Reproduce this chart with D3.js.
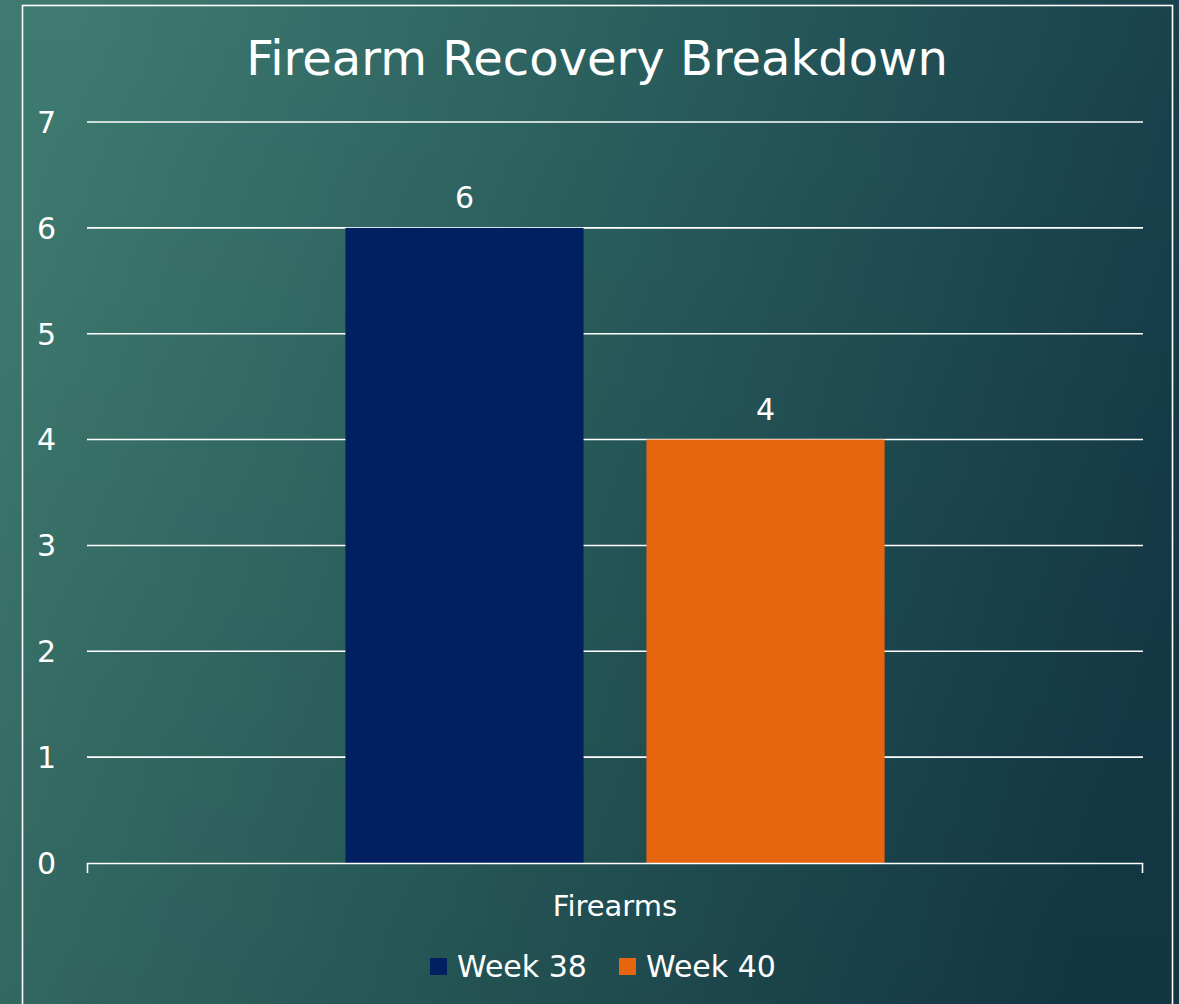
<!DOCTYPE html>
<html>
<head>
<meta charset="utf-8">
<script src="https://cdn.jsdelivr.net/npm/d3@7"></script>
<style>
  body { margin: 0; background: #1d4b52; }
  svg { display: block; font-family: "DejaVu Sans", sans-serif; }
</style>
</head>
<body>
<div id="chart"></div>
<script>
var width = 1179;
var height = 1004;

// chart data
var categories = ["Firearms"];
var seriesNames = ["Week 38", "Week 40"];
var week38 = [6];
var week40 = [4];
var yTicks = [0, 1, 2, 3, 4, 5, 6, 7];
var seriesColors = ["#002060", "#E8650F"];

var margin = {top: 122, right: 36, bottom: 141, left: 87};

var svg = d3.select("#chart").append("svg")
  .attr("width", width)
  .attr("height", height);

// background
var defs = svg.append("defs");
var grad = defs.append("linearGradient")
  .attr("id", "bg")
  .attr("x1", "0%").attr("y1", "35%")
  .attr("x2", "100%").attr("y2", "55%");
grad.append("stop").attr("offset", "0%").attr("stop-color", "#3e7a70");
grad.append("stop").attr("offset", "45%").attr("stop-color", "#2a5f5e");
grad.append("stop").attr("offset", "100%").attr("stop-color", "#153b49");

var shade = defs.append("linearGradient")
  .attr("id", "shade")
  .attr("x1", "0%").attr("y1", "0%")
  .attr("x2", "0%").attr("y2", "100%");
shade.append("stop").attr("offset", "0%").attr("stop-color", "#000").attr("stop-opacity", 0);
shade.append("stop").attr("offset", "100%").attr("stop-color", "#000").attr("stop-opacity", 0.1);

svg.append("rect").attr("width", width).attr("height", height).attr("fill", "url(#bg)");
svg.append("rect").attr("width", width).attr("height", height).attr("fill", "url(#shade)");

// frame
svg.append("rect")
  .attr("x", 22.5).attr("y", 5.5)
  .attr("width", 1150).attr("height", 1010)
  .attr("fill", "none")
  .attr("stroke", "#fff")
  .attr("stroke-width", 1.6);

var plotW = width - margin.left - margin.right;
var plotH = height - margin.top - margin.bottom;

var g = svg.append("g")
  .attr("transform", "translate(" + margin.left + "," + margin.top + ")");

var x0 = d3.scaleBand()
  .domain(categories)
  .range([0, plotW])
  .padding(0.324);

var x1 = d3.scaleBand()
  .domain(seriesNames)
  .range([0, x0.bandwidth()])
  .paddingInner(0.209)
  .paddingOuter(0);

var y = d3.scaleLinear()
  .domain([0, 7])
  .range([plotH, 0]);

// gridlines
g.selectAll("line.grid")
  .data(yTicks.slice(1))
  .enter().append("line")
  .attr("class", "grid")
  .attr("x1", 0).attr("x2", plotW)
  .attr("y1", function(d) { return y(d); })
  .attr("y2", function(d) { return y(d); })
  .attr("stroke", "#fff")
  .attr("stroke-width", 1.6);

// y labels
g.selectAll("text.ytick")
  .data(yTicks)
  .enter().append("text")
  .attr("class", "ytick")
  .attr("x", -31)
  .attr("y", function(d) { return y(d); })
  .attr("dy", "0.36em")
  .attr("text-anchor", "end")
  .attr("fill", "#fff")
  .style("font-size", "30px")
  .text(function(d) { return d; });

// bars
var rows = categories.map(function(c, i) {
  return {category: c, values: [
    {name: seriesNames[0], value: week38[i], color: seriesColors[0]},
    {name: seriesNames[1], value: week40[i], color: seriesColors[1]}
  ]};
});

var groups = g.selectAll("g.cat")
  .data(rows)
  .enter().append("g")
  .attr("class", "cat")
  .attr("transform", function(d) { return "translate(" + x0(d.category) + ",0)"; });

groups.selectAll("rect")
  .data(function(d) { return d.values; })
  .enter().append("rect")
  .attr("x", function(d) { return x1(d.name); })
  .attr("y", function(d) { return y(d.value); })
  .attr("width", x1.bandwidth())
  .attr("height", function(d) { return plotH - y(d.value); })
  .attr("fill", function(d) { return d.color; });

groups.selectAll("text.val")
  .data(function(d) { return d.values; })
  .enter().append("text")
  .attr("class", "val")
  .attr("x", function(d) { return x1(d.name) + x1.bandwidth() / 2; })
  .attr("y", function(d) { return y(d.value) - 20; })
  .attr("text-anchor", "middle")
  .attr("fill", "#fff")
  .style("font-size", "30px")
  .text(function(d) { return d.value; });

// x axis
var xAxis = g.append("g")
  .attr("transform", "translate(0," + plotH + ")");
xAxis.append("path")
  .attr("d", "M0.5,10V0.5H" + (plotW - 0.5) + "V10")
  .attr("fill", "none")
  .attr("stroke", "#fff")
  .attr("stroke-width", 1.6);
xAxis.selectAll("text")
  .data(categories)
  .enter().append("text")
  .attr("x", function(d) { return x0(d) + x0.bandwidth() / 2; })
  .attr("y", 53)
  .attr("text-anchor", "middle")
  .attr("fill", "#fff")
  .style("font-size", "29px")
  .text(function(d) { return d; });

// title
svg.append("text")
  .attr("x", 597)
  .attr("y", 75)
  .attr("text-anchor", "middle")
  .attr("fill", "#fff")
  .style("font-size", "48px")
  .text("Firearm Recovery Breakdown");

// legend
var legendX = [430, 619];
var legend = svg.selectAll("g.legend")
  .data(seriesNames)
  .enter().append("g")
  .attr("class", "legend")
  .attr("transform", function(d, i) { return "translate(" + legendX[i] + ",958)"; });
legend.append("rect")
  .attr("width", 17).attr("height", 17)
  .attr("fill", function(d, i) { return seriesColors[i]; });
legend.append("text")
  .attr("x", 27)
  .attr("y", 18.5)
  .attr("fill", "#fff")
  .style("font-size", "30px")
  .text(function(d) { return d; });
</script>
</body>
</html>
